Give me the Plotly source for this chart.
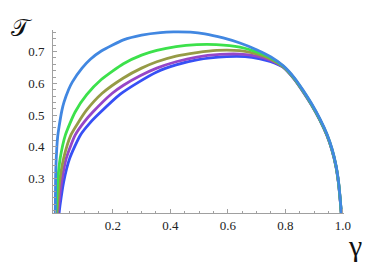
import plotly.graph_objects as go

# Series 1 (light blue)
g1 = [0.0, 0.001, 0.003, 0.008, 0.013, 0.023, 0.030, 0.046, 0.059, 0.093, 0.122, 0.16, 0.237, 0.30, 0.365, 0.411, 0.47, 0.52, 0.584, 0.642, 0.70, 0.75,
      0.793, 0.83, 0.862, 0.89, 0.92, 0.945, 0.962, 0.976, 0.985, 0.991, 0.995]
t1 = [0.19, 0.30, 0.358, 0.43, 0.463, 0.515, 0.54, 0.58, 0.604, 0.648, 0.676, 0.702, 0.737, 0.752, 0.760, 0.762, 0.761, 0.756, 0.743, 0.727, 0.706, 0.683,
      0.655, 0.619, 0.578, 0.538, 0.489, 0.44, 0.395, 0.343, 0.29, 0.235, 0.19]
# Series 2 (green)
g2 = [0.002, 0.004, 0.008, 0.017, 0.035, 0.069, 0.11, 0.16, 0.237, 0.30, 0.353, 0.42, 0.492, 0.56, 0.642, 0.70, 0.75,
      0.793, 0.83, 0.862, 0.89, 0.92, 0.945, 0.962, 0.976, 0.985, 0.991, 0.995]
t2 = [0.19, 0.22, 0.29, 0.364, 0.437, 0.51, 0.565, 0.612, 0.662, 0.689, 0.704, 0.716, 0.722, 0.722, 0.714, 0.699, 0.68,
      0.654, 0.617, 0.576, 0.536, 0.487, 0.438, 0.393, 0.341, 0.288, 0.233, 0.188]
# Series 3 (olive)
g3 = [0.006, 0.008, 0.015, 0.029, 0.054, 0.08, 0.11, 0.162, 0.237, 0.30, 0.353, 0.42, 0.492, 0.561, 0.642, 0.70, 0.75,
      0.793, 0.83, 0.862, 0.89, 0.92, 0.945, 0.962, 0.976, 0.985, 0.991, 0.995]
t3 = [0.19, 0.22, 0.29, 0.364, 0.437, 0.477, 0.517, 0.568, 0.617, 0.648, 0.668, 0.686, 0.697, 0.704, 0.703, 0.693, 0.676,
      0.652, 0.616, 0.575, 0.535, 0.486, 0.437, 0.392, 0.340, 0.287, 0.232, 0.187]
# Series 4 (purple)
g4 = [0.009, 0.011, 0.022, 0.038, 0.069, 0.10, 0.133, 0.197, 0.237, 0.295, 0.353, 0.42, 0.492, 0.573, 0.642, 0.70, 0.75,
      0.793, 0.83, 0.862, 0.89, 0.92, 0.945, 0.962, 0.976, 0.985, 0.991, 0.995]
t4 = [0.19, 0.21, 0.29, 0.364, 0.437, 0.478, 0.512, 0.568, 0.594, 0.624, 0.648, 0.668, 0.683, 0.691, 0.692, 0.686, 0.672,
      0.651, 0.615, 0.574, 0.534, 0.485, 0.436, 0.391, 0.339, 0.286, 0.231, 0.186]
# Series 5 (blue)
g5 = [0.013, 0.017, 0.029, 0.05, 0.087, 0.12, 0.156, 0.226, 0.29, 0.353, 0.42, 0.492, 0.596, 0.66, 0.712, 0.75,
      0.793, 0.83, 0.862, 0.89, 0.92, 0.945, 0.962, 0.976, 0.985, 0.991, 0.995]
t5 = [0.19, 0.22, 0.29, 0.364, 0.437, 0.475, 0.508, 0.566, 0.604, 0.636, 0.658, 0.674, 0.684, 0.684, 0.677, 0.668,
      0.65, 0.614, 0.573, 0.533, 0.484, 0.435, 0.39, 0.338, 0.285, 0.23, 0.185]

x_ticks = [0.2, 0.4, 0.6, 0.8, 1.0]
x_labels = ["0.2", "0.4", "0.6", "0.8", "1.0"]
y_ticks = [0.3, 0.4, 0.5, 0.6, 0.7]
y_labels = ["0.3", "0.4", "0.5", "0.6", "0.7"]

series = [
    (g5, t5, "rgb(55,80,245)"),
    (g4, t4, "rgb(150,70,200)"),
    (g3, t3, "rgb(150,155,70)"),
    (g2, t2, "rgb(60,225,75)"),
    (g1, t1, "rgb(65,135,225)"),
]

fig = go.Figure()
for g, t, c in series:
    fig.add_trace(go.Scatter(x=g, y=t, mode="lines",
                             line=dict(color=c, width=2.8, shape="spline", smoothing=0.6),
                             showlegend=False, hoverinfo="skip"))

axis_common = dict(showgrid=False, zeroline=False, showline=True, linecolor="#a0a0a0",
                   linewidth=1, ticks="inside", ticklen=4, tickcolor="#a0a0a0",
                   tickfont=dict(family="Liberation Serif", size=13, color="#222"))
fig.update_xaxes(range=[-0.008, 1.004], tickmode="array", tickvals=x_ticks, ticktext=x_labels,
                 ticklabelstandoff=0,
                 minor=dict(dtick=0.05, tick0=0, ticks="inside", ticklen=2.5, tickcolor="#a0a0a0"),
                 **axis_common)
fig.update_yaxes(range=[0.192, 0.768], tickmode="array", tickvals=y_ticks, ticktext=y_labels,
                 ticklabelstandoff=5,
                 minor=dict(dtick=0.02, tick0=0, ticks="inside", ticklen=2.5, tickcolor="#a0a0a0"),
                 **axis_common)

fig.add_annotation(text="γ", xref="paper", yref="paper", x=1.038, y=-0.177,
                   xanchor="center", yanchor="middle",
                   showarrow=False, font=dict(family="Liberation Serif", size=30, color="#111"))
fig.add_annotation(text="𝒯", xref="paper", yref="paper", x=-0.152, y=1.10,
                   xanchor="left", yanchor="top",
                   showarrow=False, font=dict(family="DejaVu Serif, DejaVu Sans", size=24, color="#111"))

fig.update_layout(width=372, height=269, margin=dict(l=45, r=36, t=22, b=64),
                  plot_bgcolor="white", paper_bgcolor="white")
fig.write_html("out.html")
